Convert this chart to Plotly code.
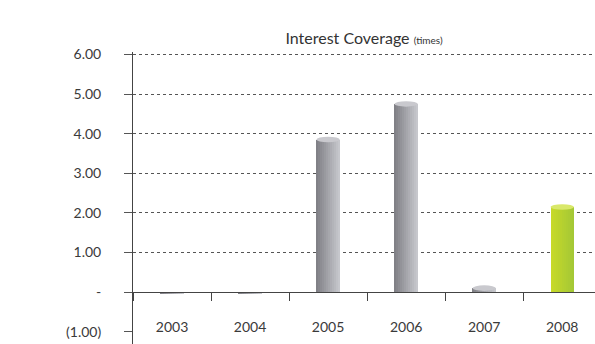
import plotly.graph_objects as go

years = ["2003", "2004", "2005", "2006", "2007", "2008"]
coverage = [-0.05, -0.03, 3.85, 4.75, 0.10, 2.15]
highlight = [False, False, False, False, False, True]
y_tickvals = [-1, 0, 1, 2, 3, 4, 5, 6]
y_ticktext = ["(1.00)", "-", "1.00", "2.00", "3.00", "4.00", "5.00", "6.00"]
grid_vals = [1, 2, 3, 4, 5, 6]

GRAY_L, GRAY_R = (128, 128, 134), (198, 199, 204)
GREEN_L, GREEN_R = (200, 218, 40), (164, 200, 54)

def mix(a, b, t):
    return "rgb(%d,%d,%d)" % tuple(round(a[k] + (b[k] - a[k]) * t) for k in range(3))

BAR_W = 0.30
N = 12
fig = go.Figure()
for s in range(N):
    t = s / (N - 1)
    colors = [mix(GREEN_L, GREEN_R, t) if h else mix(GRAY_L, GRAY_R, t) for h in highlight]
    fig.add_trace(go.Bar(
        x=years, y=coverage, width=BAR_W / N + 0.002,
        offset=-BAR_W / 2 + s * BAR_W / N,
        marker=dict(color=colors, line=dict(width=0)),
        showlegend=False, hoverinfo="skip"))

shapes = []
for i, (v, h) in enumerate(zip(coverage, highlight)):
    if v > 0:
        shapes.append(dict(type="circle", xref="x", yref="y",
                           x0=i - BAR_W / 2, x1=i + BAR_W / 2,
                           y0=v - 0.07, y1=v + 0.07,
                           fillcolor="#d9e86a" if h else "#c9c9ce",
                           line=dict(width=0), layer="above"))

ymin, ymax = -1.31, 6.06
fig.update_layout(
    width=595, height=344,
    margin=dict(l=133, r=0, t=52, b=0),
    paper_bgcolor="white", plot_bgcolor="rgba(0,0,0,0)",
    barmode="overlay", bargap=0,
    font=dict(family="Lato, 'Open Sans', sans-serif", size=14, color="#3a3a3a"),
    title=dict(text='Interest Coverage <span style="font-size:10px">(times)</span>',
               x=(133 + 595) / 2 / 595, xanchor="center", y=1 - 38 / 344, yanchor="middle",
               font=dict(size=16, color="#333")),
    shapes=shapes,
    xaxis=dict(type="category", range=[-0.5, 5.42], anchor="free",
               position=(0 - ymin) / (ymax - ymin),
               showline=True, linecolor="#444", linewidth=1,
               ticks="outside", tickson="boundaries", ticklen=8, tickcolor="#444",
               ticklabelstandoff=22, showgrid=False,
               tickfont=dict(size=14, color="#3a3a3a")),
    yaxis=dict(range=[ymin, ymax], tickvals=y_tickvals, ticktext=y_ticktext,
               showline=True, linecolor="#444", linewidth=1,
               ticks="outside", ticklen=8, tickcolor="#555",
               ticklabelstandoff=20, showgrid=False, zeroline=False, layer="above traces"),
    yaxis2=dict(range=[ymin, ymax], overlaying="y", tickvals=grid_vals,
                showticklabels=False, showline=False, ticks="",
                showgrid=True, gridcolor="#555", griddash="dot", gridwidth=1,
                zeroline=False, layer="below traces"),
)
# invisible trace to activate the grid axis
fig.add_trace(go.Scatter(x=years, y=coverage, yaxis="y2", mode="none",
                         showlegend=False, hoverinfo="skip"))

fig.write_html("out.html")
